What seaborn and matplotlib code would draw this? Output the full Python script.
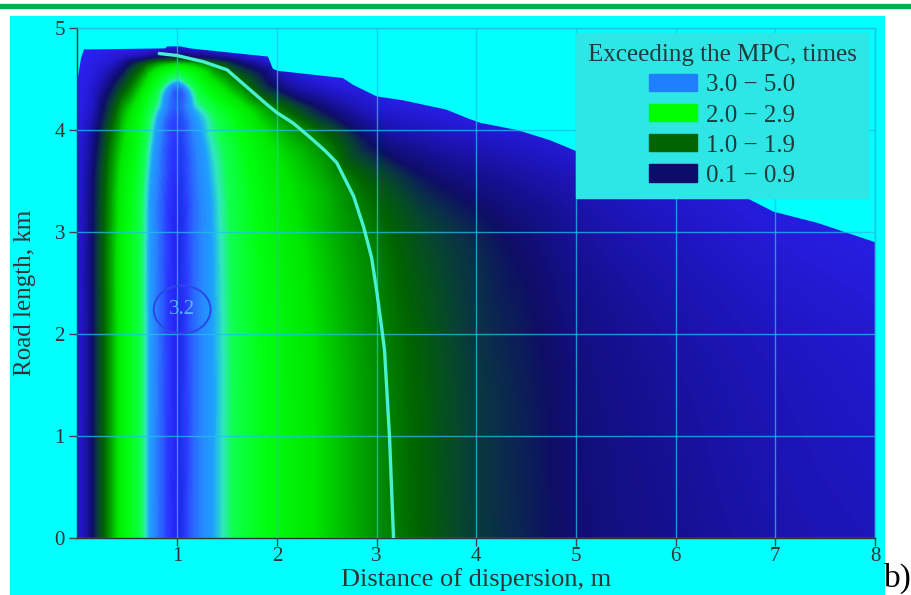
import numpy as np
import matplotlib
matplotlib.use("Agg")
import matplotlib.pyplot as plt
import matplotlib.tri as mtri
from matplotlib.colors import LinearSegmentedColormap
from matplotlib.patches import Polygon, Ellipse, Rectangle, Patch
from matplotlib.lines import Line2D
import seaborn as sns

# ---- sampled excess of MPC (times) on a distance x road-length grid ----
dist_m = [0, 0.08, 0.16, 0.25, 0.35, 0.45, 0.6, 0.72, 0.85, 1.0, 1.15, 1.3,
          1.45, 1.6, 2.0, 2.5, 3.0, 3.5, 4.0, 4.5, 5.0, 6.0, 7.0, 8.0]
road_km = [0.0, 2.0, 3.0, 3.5, 3.9, 4.2, 4.45, 4.65, 4.72, 4.85]

excess_000 = [0.15, 0.30, 0.65, 1.20, 1.80, 2.30, 2.70, 2.96, 3.10, 3.24, 3.10, 3.00,
              2.90, 2.75, 2.40, 2.00, 1.60, 1.25, 0.90, 0.72, 0.55, 0.40, 0.30, 0.24]
excess_200 = [0.15, 0.30, 0.65, 1.20, 1.80, 2.30, 2.70, 2.96, 3.10, 3.24, 3.10, 3.00,
              2.90, 2.75, 2.38, 1.96, 1.55, 1.18, 0.84, 0.66, 0.48, 0.32, 0.22, 0.15]
excess_300 = [0.14, 0.30, 0.64, 1.20, 1.80, 2.30, 2.70, 2.96, 3.10, 3.24, 3.10, 3.00,
              2.88, 2.72, 2.30, 1.85, 1.42, 1.00, 0.72, 0.52, 0.36, 0.22, 0.12, 0.07]
excess_350 = [0.12, 0.28, 0.60, 1.12, 1.72, 2.22, 2.64, 2.94, 3.09, 3.22, 3.09, 2.98,
              2.85, 2.68, 2.20, 1.75, 1.15, 0.65, 0.45, 0.34, 0.25, 0.14, 0.07, 0.04]
excess_390 = [0.10, 0.22, 0.45, 0.90, 1.50, 2.00, 2.50, 2.86, 3.06, 3.18, 3.06, 2.93,
              2.78, 2.58, 2.00, 1.40, 0.50, 0.30, 0.22, 0.16, 0.10, 0.05, 0.03, 0.02]
excess_420 = [0.06, 0.12, 0.25, 0.60, 1.10, 1.70, 2.30, 2.72, 2.98, 3.12, 2.98, 2.82,
              2.60, 2.35, 1.50, 0.55, 0.18, 0.10, 0.05, 0.03, 0.02, 0.02, 0.02, 0.02]
excess_445 = [0.04, 0.08, 0.15, 0.30, 0.60, 1.00, 1.70, 2.30, 2.75, 3.00, 2.75, 2.35,
              2.00, 1.60, 0.50, 0.12, 0.05, 0.03, 0.02, 0.02, 0.02, 0.02, 0.02, 0.02]
excess_465 = [0.02, 0.04, 0.08, 0.12, 0.20, 0.40, 0.90, 1.40, 1.80, 2.00, 1.85, 1.50,
              1.10, 0.70, 0.15, 0.05, 0.02, 0.02, 0.02, 0.02, 0.02, 0.02, 0.02, 0.02]
excess_472 = [0.02, 0.03, 0.05, 0.08, 0.12, 0.18, 0.30, 0.45, 0.60, 0.70, 0.62, 0.50,
              0.38, 0.25, 0.08, 0.03, 0.02, 0.02, 0.02, 0.02, 0.02, 0.02, 0.02, 0.02]
excess_485 = [0.02] * 24

# upper edge of the calculated zone
edge_x = [0.0, 0.0, 0.035, 0.065, 0.88, 0.90, 1.03, 1.13, 1.91, 1.96, 2.01, 2.66,
          2.77, 3.0, 3.27, 3.7, 3.9, 4.04, 4.41, 4.74, 5.01, 5.5, 6.0, 6.7, 6.98,
          7.42, 8.0, 8.0]
edge_y = [0.0, 4.49, 4.70, 4.79, 4.80, 4.82, 4.82, 4.80, 4.72, 4.60, 4.58, 4.51,
          4.44, 4.33, 4.29, 4.20, 4.12, 4.07, 4.00, 3.90, 3.79, 3.66, 3.53, 3.34, 3.20,
          3.09, 2.90, 0.0]

# isoline of the MPC excess boundary
iso_x = [0.82, 1.0, 1.26, 1.5, 1.7, 1.9, 2.0, 2.16, 2.33, 2.48, 2.6, 2.77, 2.87,
         2.95, 3.0, 3.05, 3.08, 3.13, 3.17]
iso_y = [4.75, 4.73, 4.67, 4.59, 4.42, 4.25, 4.17, 4.07, 3.93, 3.80, 3.68, 3.35,
         3.05, 2.75, 2.43, 2.07, 1.84, 0.99, 0.0]

legend_labels = ["3.0 \u2212 5.0", "2.0 \u2212 2.9", "1.0 \u2212 1.9", "0.1 \u2212 0.9"]
legend_colors = ["#1e7fff", "#00ff00", "#006400", "#0c0c6a"]

peak_value = 3.2
peak_pos = (1.05, 2.24)

# ---- style ----
sns.set_theme(style="white")
plt.rcParams["font.family"] = ["Liberation Serif", "DejaVu Serif"]
CYAN = "#00ffff"
TXT = "#333333"

cmap_nodes = [(0.00, "#2c22f4"), (0.20, "#2016c4"), (0.40, "#15108f"),
              (0.60, "#0e0e66"), (0.80, "#0a3048"), (1.00, "#06482c"),
              (1.30, "#006400"), (1.70, "#00a000"), (2.10, "#00e800"),
              (2.50, "#00ff10"), (2.80, "#10ff50"), (2.90, "#30e8c0"),
              (2.97, "#1ea0ff"), (3.04, "#2888ff"), (3.10, "#2a62ff"),
              (3.17, "#2a3cff"), (3.24, "#2626f4"), (3.30, "#2424ee")]
vmax = 3.3
cmap = LinearSegmentedColormap.from_list(
    "mpc", [(v / vmax, c) for v, c in cmap_nodes])

fig = plt.figure(figsize=(9.12, 5.95), dpi=100)
fig.patch.set_facecolor("white")
fig.add_artist(Rectangle((10 / 912, 0), 875 / 912, 579 / 595,
                         transform=fig.transFigure, facecolor=CYAN,
                         edgecolor="none", zorder=0))
fig.add_artist(Line2D([0, 1], [1 - 5.5 / 595, 1 - 5.5 / 595],
                      transform=fig.transFigure, color="#00b050", lw=3.8))

ax = fig.add_axes([77.5 / 912, 57 / 595, 797.5 / 912, 510 / 595])
ax.set_facecolor(CYAN)

# concentration field
X, Y = np.meshgrid(np.array(dist_m), np.array(road_km))
Z = np.array([excess_000, excess_200, excess_300, excess_350, excess_390,
              excess_420, excess_445, excess_465, excess_472, excess_485])
tri = mtri.Triangulation(X.ravel(), Y.ravel())
interp = mtri.CubicTriInterpolator(tri, Z.ravel(), kind="geom")
gx, gy = np.meshgrid(np.linspace(0, 8, 801), np.linspace(0, 4.85, 486))
field = interp(gx, gy)
img = ax.imshow(field, extent=[0, 8, 0, 4.85], origin="lower", cmap=cmap,
                vmin=0, vmax=vmax, aspect="auto", interpolation="bilinear",
                zorder=1)
zone = Polygon(np.column_stack([edge_x, edge_y]), closed=True,
               facecolor="none", edgecolor="none", transform=ax.transData)
ax.add_patch(zone)
img.set_clip_path(zone)

# isoline
sns.lineplot(x=iso_x, y=iso_y, sort=False, estimator=None, ax=ax,
             color="#48f0d0", lw=2.4, zorder=4)

# peak marker
ax.add_patch(Ellipse(peak_pos, 0.57, 0.47, facecolor="none",
                     edgecolor="#2a48e8", lw=1.4, zorder=5))
ax.text(peak_pos[0], peak_pos[1], f"{peak_value:.1f}", color="#5ab4ff",
        fontsize=15, ha="center", va="center", zorder=6)

ax.set_xlim(0, 8)
ax.set_ylim(0, 5)
ax.set_xticks(range(1, 9))
ax.set_yticks(range(0, 6))
ax.grid(True, color="#20c0e8", alpha=0.75, lw=1.0)
ax.set_axisbelow(False)
for s in ("left", "bottom"):
    ax.spines[s].set_color("#333333")
    ax.spines[s].set_linewidth(1.0)
for s in ("top", "right"):
    ax.spines[s].set_color("#20c0e8")
    ax.spines[s].set_linewidth(1.0)
ax.tick_params(axis="both", direction="out", length=6, width=1,
               color="#444444", labelcolor=TXT, labelsize=15,
               left=True, bottom=True)
ax.tick_params(axis="x", pad=0.5)
ax.tick_params(axis="y", pad=3)

ax.set_xlabel("Distance of dispersion, m", fontsize=19, color=TXT)
ax.xaxis.set_label_coords(0.5, -0.058)
ax.set_ylabel("Road length, km", fontsize=18, color=TXT)
ax.yaxis.set_label_coords(-0.052, 0.48)

handles = [Patch(facecolor=c, edgecolor=c) for c in legend_colors]
leg = ax.legend(handles, legend_labels, title="Exceeding the MPC, times",
                loc="upper right", bbox_to_anchor=(0.991, 0.99),
                borderaxespad=0, fontsize=18, title_fontsize=18, frameon=True,
                facecolor="#2fe6e6", edgecolor="#2fe6e6", framealpha=1,
                fancybox=False, handlelength=1.92, handleheight=0.68,
                handletextpad=0.36, labelspacing=0.31, borderpad=0.45)
leg.get_title().set_color("#1e3c3c")
for t in leg.get_texts():
    t.set_color("#1e3c3c")
leg.set_zorder(10)

fig.text(898 / 912, 17 / 595, "b)", fontsize=24, color="black",
         ha="center", va="center")

fig.savefig("out.png", dpi=100)
